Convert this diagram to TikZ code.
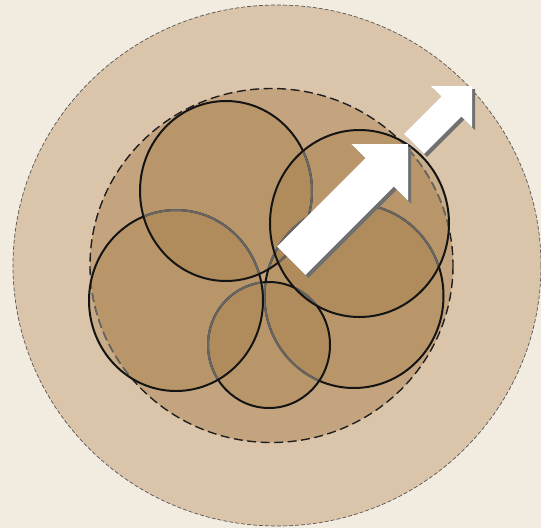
\documentclass[tikz,border=0pt]{standalone}
\definecolor{bgc}{HTML}{F2EBE0}
\definecolor{outerc}{HTML}{DBC5AA}
\definecolor{innerc}{HTML}{C4A47E}
\definecolor{cellc}{RGB}{160,122,66}
\definecolor{hidc}{HTML}{666666}
\definecolor{shadc}{HTML}{6F6F6F}
\definecolor{outerline}{HTML}{555555}
\newcommand\ccA{(226,191) ellipse [x radius=86, y radius=90]}
\newcommand\ccB{(176,300.5) ellipse [x radius=87, y radius=90.5]}
\newcommand\ccC{(269,345) ellipse [x radius=61, y radius=63]}
\newcommand\ccD{(354,296) ellipse [x radius=89.5, y radius=92]}
\newcommand\ccE{(359.5,223.5) ellipse [x radius=89.5, y radius=93.5]}
\newcommand\ccIn{(271.5,265.5) ellipse [x radius=181.5, y radius=177]}
\newcommand\bigarrowpath{(0,0) -- (-40,40) -- (-40,20) -- (-165,20) -- (-165,-20) -- (-40,-20) -- (-40,-40) -- cycle}
\newcommand\smallarrowpath{(0,0) -- (-29,29) -- (-29,14) -- (-82,14) -- (-82,-14) -- (-29,-14) -- (-29,-29) -- cycle}
\begin{document}
\begin{tikzpicture}[x=1pt,y=-1pt,
  cellfill/.style={fill=cellc,fill opacity=0.33},
  cellline/.style={draw=black!92,line width=2pt},
  hidline/.style={draw=hidc,line width=2pt},
  innerdash/.style={draw=black!88,line width=1.4pt,dash pattern=on 9pt off 4.5pt},
  hiddash/.style={draw=hidc,line width=1.4pt,dash pattern=on 9pt off 4.5pt},
  outerdash/.style={draw=outerline,line width=0.7pt,dash pattern=on 4pt off 2pt},
  shadow/.style={fill=shadc},
  arrowbody/.style={fill=white}]
\fill[bgc] (0,0) rectangle (541,528);
\useasboundingbox (0,0) rectangle (541,528);
% outer zone
\fill[outerc] (277,265.5) ellipse [x radius=264, y radius=260.5];
\draw[outerdash] (277,265.5) ellipse [x radius=264, y radius=260.5];
% inner zone
\fill[innerc] \ccIn;
\draw[innerdash] \ccIn;
% cell fills
\fill[cellfill] \ccD;
\fill[cellfill] \ccC;
\fill[cellfill] \ccB;
\fill[cellfill] \ccA;
\fill[cellfill] \ccE;
% hidden parts of inner dashed line
\foreach \cc in {\ccA,\ccB,\ccC,\ccD,\ccE}{
  \begin{scope}\clip \cc; \draw[hiddash] \ccIn; \end{scope}
}
% D (drawn first)
\draw[cellline] \ccD;
\foreach \cc in {\ccC,\ccB,\ccA,\ccE}{
  \begin{scope}\clip \cc; \draw[hidline] \ccD; \end{scope}
}
% C
\draw[cellline] \ccC;
\foreach \cc in {\ccB,\ccA,\ccE}{
  \begin{scope}\clip \cc; \draw[hidline] \ccC; \end{scope}
}
% B
\draw[cellline] \ccB;
\foreach \cc in {\ccA,\ccE}{
  \begin{scope}\clip \cc; \draw[hidline] \ccB; \end{scope}
}
% A
\draw[cellline] \ccA;
\begin{scope}\clip \ccE; \draw[hidline] \ccA; \end{scope}
% E (on top)
\draw[cellline] \ccE;
% small arrow
\begin{scope}[shift={(475,89)},rotate=45]
  \fill[shadow] \smallarrowpath;
\end{scope}
\begin{scope}[shift={(472,86)},rotate=45]
  \fill[arrowbody] \smallarrowpath;
\end{scope}
% big arrow
\begin{scope}[shift={(411,147)},rotate=45]
  \fill[shadow] \bigarrowpath;
\end{scope}
\begin{scope}[shift={(408,144)},rotate=45]
  \fill[arrowbody] \bigarrowpath;
\end{scope}
\end{tikzpicture}
\end{document}
